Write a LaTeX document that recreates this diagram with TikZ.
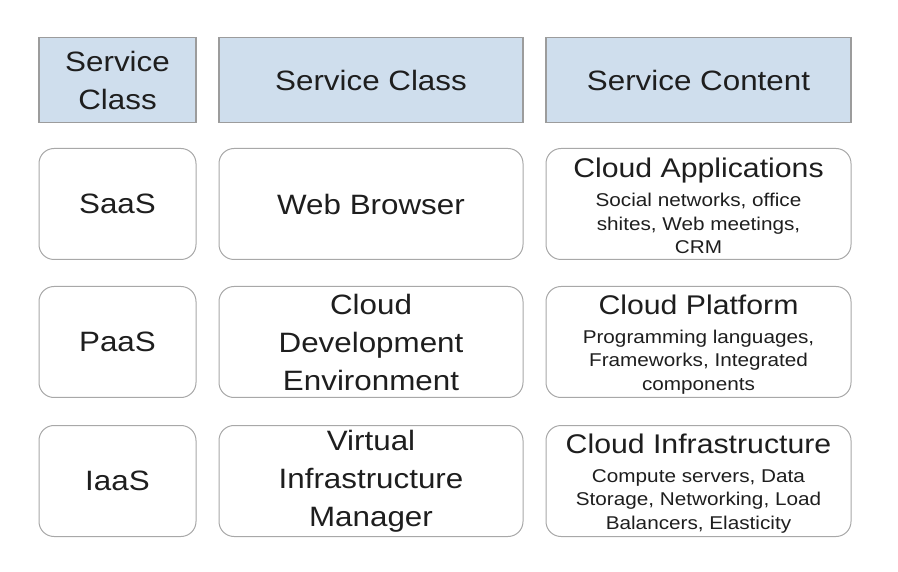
\documentclass[tikz,border=0pt]{standalone}
\usepackage{fontspec}
\setmainfont[FakeStretch=1.12]{Liberation Sans}
\usepackage{tikz}

\definecolor{hdrblue}{HTML}{CFDEED}
\definecolor{hdrline}{HTML}{9C9C9C}
\definecolor{boxline}{HTML}{A8A8A8}
\definecolor{txtgray}{HTML}{1E1E1E}

\newcommand{\bigtxt}{\fontsize{28}{38}\selectfont}
\newcommand{\titletxt}{\fontsize{27}{38}\selectfont}
\newcommand{\smalltxt}{\fontsize{18.5}{38}\selectfont}

\tikzset{
  hdr/.style={draw=hdrline, fill=hdrblue, line width=1.2pt, align=center,
    font=\bigtxt, text=txtgray, inner sep=0pt},
  cell/.style={draw=boxline, rounded corners=15pt, line width=1pt, align=center,
    font=\bigtxt, text=txtgray, inner sep=0pt, minimum height=111pt},
  content/.style={cell, font=\titletxt},
  w1/.style={minimum width=157pt},
  w2/.style={minimum width=304pt},
  w3/.style={minimum width=305pt}
}

\begin{document}
\begin{tikzpicture}[x=1pt, y=-1pt]
				\useasboundingbox (0,0) rectangle (898,572);
				
				% Header row
				\node[hdr, w1, minimum height=85pt] (hclass) at (117.5, 80) {Service\\Class};
				\node[hdr, w2, minimum height=85pt] (hname) at (371, 80) {Service Class};
				\node[hdr, w3, minimum height=85pt] (hcontent) at (698.5, 80) {Service Content};
				
				% SaaS
				\node[cell, w1] (saas) at (117.5, 204) {SaaS};
				\node[cell, w2] (browser) at (371, 204) {Web Browser};
				\node[content, w3] (apps) at (698.5, 204) {\mbox{}\\[-14pt]Cloud Applications\\[-9pt]
					\smalltxt Social networks, office\\[-14.5pt] \smalltxt shites, Web meetings,\\[-14.5pt] \smalltxt CRM};
				
				% PaaS
				\node[cell, w1] (paas) at (117.5, 342) {PaaS};
				\node[cell, w2] (devenv) at (371, 342) {Cloud\\Development\\Environment};
				\node[content, w3] (platform) at (698.5, 342) {\mbox{}\\[-14pt]Cloud Platform\\[-9pt]
					\smalltxt Programming languages,\\[-14.5pt] \smalltxt Frameworks, Integrated\\[-14.5pt] \smalltxt components};
				
				% IaaS
				\node[cell, w1] (iaas) at (117.5, 481) {IaaS};
				\node[cell, w2] (vim) at (371, 481) {Virtual\\Infrastructure\\Manager};
				\node[content, w3] (infra) at (698.5, 481) {\mbox{}\\[-14pt]Cloud Infrastructure\\[-9pt]
					\smalltxt Compute servers, Data\\[-14.5pt] \smalltxt Storage, Networking, Load\\[-14.5pt] \smalltxt Balancers, Elasticity};
\end{tikzpicture}
\end{document}
